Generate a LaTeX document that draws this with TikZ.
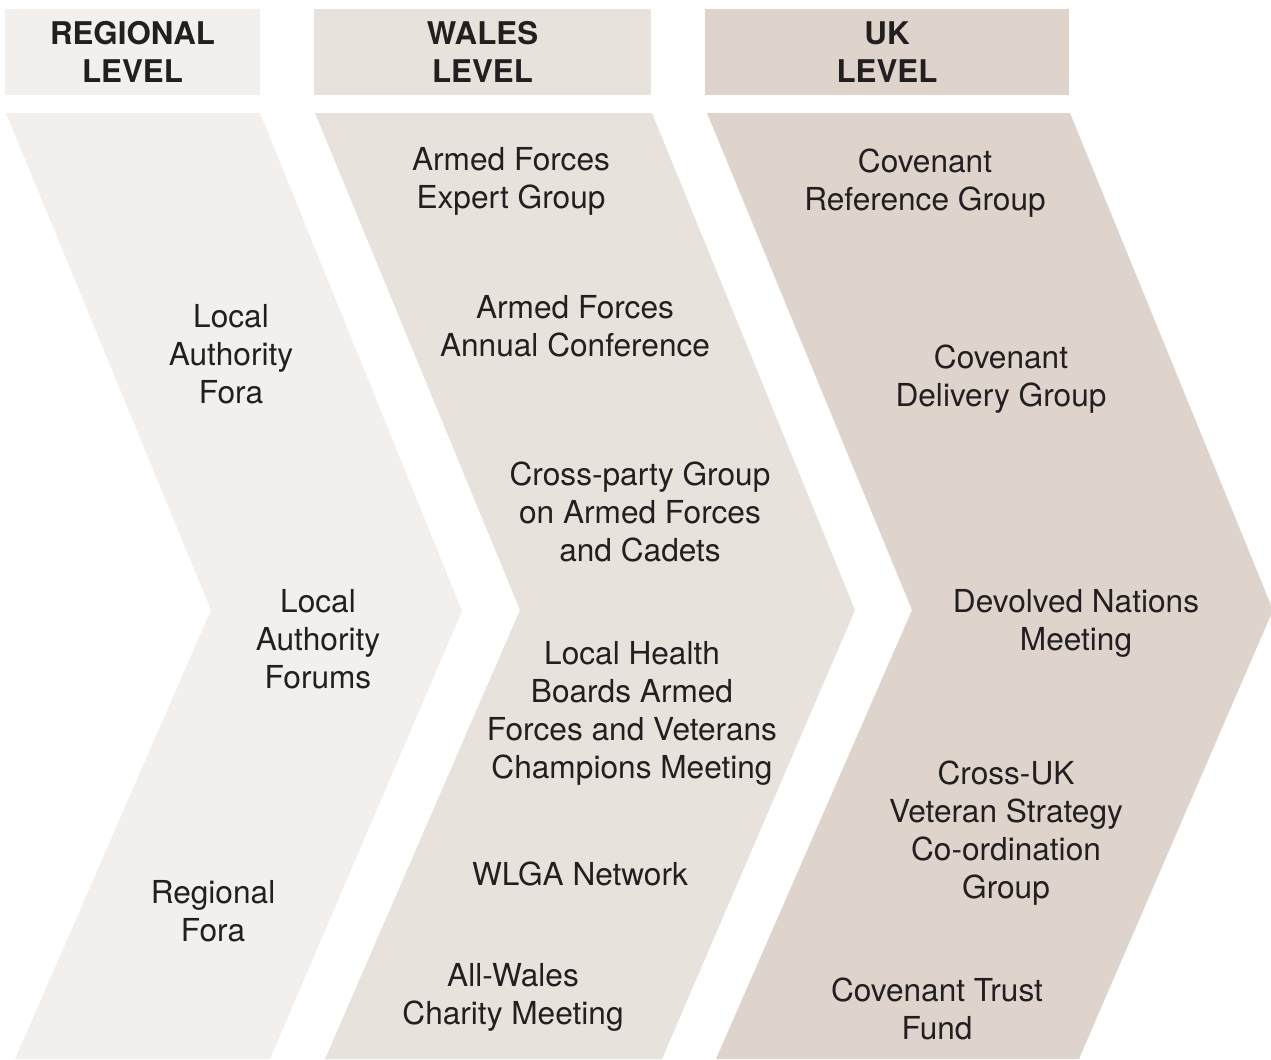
\documentclass[tikz,border=0pt]{standalone}
\usepackage{fontspec}
\setmainfont{TeX Gyre Heros}
\usetikzlibrary{positioning}
\definecolor{sandlight}{RGB}{242, 239, 236}
\definecolor{sandmid}{RGB}{232, 226, 221}
\definecolor{sanddark}{RGB}{222, 212, 204}
\definecolor{inkgray}{RGB}{35, 31, 32}

\tikzset{
    levelbox/.style={minimum height=1.72cm, inner sep=0pt, text=inkgray, align=center,
                     font=\fontsize{17.8}{21.6}\selectfont\bfseries},
    groupname/.style={text=inkgray, align=center, inner sep=0pt,
                      font=\fontsize{18}{21.6}\selectfont},
}

\begin{document}
\begin{tikzpicture}[x=0.02cm, y=-0.02cm]
            % Frame to fix the page size:
            \useasboundingbox                                                 (0, 0) rectangle (1271, 1059);
            % Level headers
            \node[levelbox, fill=sandlight, minimum width=5.10cm] (hdrRegional) at ( 132.5, 52) {REGIONAL\\LEVEL};
            \node[levelbox, fill=sandmid,   minimum width=6.74cm] (hdrWales)    at ( 482.5, 52) {WALES\\LEVEL};
            \node[levelbox, fill=sanddark,  minimum width=7.28cm] (hdrUK)       at ( 887.0, 52) {UK\\LEVEL};
            % Chevrons
            \fill[sandlight] (  6, 113) -- ( 260, 113) -- ( 462, 611) -- ( 270, 1059) -- ( 15, 1059) -- ( 211, 610) -- cycle;
            \fill[sandmid]   (315, 113) -- ( 652, 113) -- ( 855, 610) -- ( 662, 1059) -- (325, 1059) -- ( 520, 610) -- cycle;
            \fill[sanddark]  (707, 113) -- (1070, 113) -- (1273, 610) -- (1079, 1059) -- (716, 1059) -- ( 912, 610) -- cycle;
            % Regional level
            \node[groupname] (laFora)      at ( 231, 354) {Local\\Authority\\Fora};
            \node[groupname] (laForums)    at ( 318, 639) {Local\\Authority\\Forums};
            \node[groupname] (regFora)     at ( 213, 911) {Regional\\Fora};
            % Wales level
            \node[groupname] (expertGrp)   at ( 511, 181) {Armed Forces\\Expert Group};
            \node[groupname] (annualConf)  at ( 575, 326) {Armed Forces\\Annual Conference};
            \node[groupname] (crossParty)  at ( 640, 512) {Cross-party Group\\on Armed Forces\\and Cadets};
            \node[groupname] (healthBoard) at ( 632, 713) {Local Health\\Boards Armed\\Forces and Veterans\\Champions Meeting};
            \node[groupname] (wlga)        at ( 580, 874) {WLGA Network};
            \node[groupname] (charityMtg)  at ( 513, 997) {All-Wales\\Charity Meeting};
            % UK level
            \node[groupname] (refGrp)      at ( 925, 183) {Covenant\\Reference Group};
            \node[groupname] (deliveryGrp) at (1001, 379) {Covenant\\Delivery Group};
            \node[groupname] (devolved)    at (1076, 623) {Devolved Nations\\Meeting};
            \node[groupname] (veteranGrp)  at (1006, 833) {Cross-UK\\Veteran Strategy\\Co-ordination\\Group};
            \node[groupname] (trustFund)   at ( 937,1009) {Covenant Trust\\Fund};
        \end{tikzpicture}
\end{document}
